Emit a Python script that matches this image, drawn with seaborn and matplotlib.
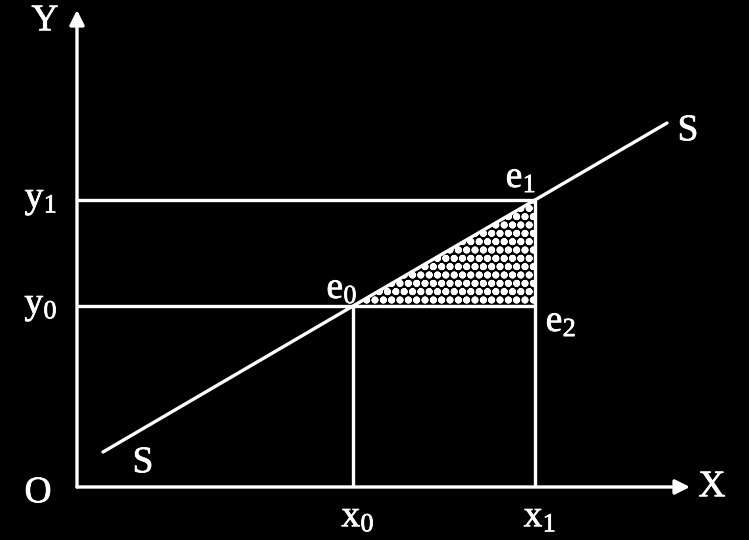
import matplotlib
matplotlib.use("Agg")
import matplotlib.pyplot as plt
import matplotlib.patheffects as pe
import pandas as pd
import seaborn as sns

# Quantities and prices at the two equilibria (origin O = 0, 0)
x_vals = [276, 458]          # x0, x1
y_vals = [181, 287]          # y0, y1
x_labels = [r"$\mathrm{x}_0$", r"$\mathrm{x}_1$"]
y_labels = [r"$\mathrm{y}_0$", r"$\mathrm{y}_1$"]

# Supply schedule S-S
supply_x = [26, 276, 458, 590]
supply_y = [35, 181, 287, 364]

# Axis extents
x_axis_end = 613
y_axis_end = 477

sns.set_theme(style="white")
plt.rcParams["font.family"] = ["Liberation Serif", "DejaVu Serif"]
plt.rcParams["mathtext.fontset"] = "custom"
plt.rcParams["mathtext.rm"] = "Liberation Serif"
plt.rcParams["mathtext.it"] = "Liberation Serif:italic"
plt.rcParams["hatch.linewidth"] = 2.6

fig = plt.figure(figsize=(7.49, 5.40), dpi=100, facecolor="black")
ax = fig.add_axes([0, 0, 1, 1])
ax.set_facecolor("black")
ax.set_xlim(-77, 672)
ax.set_ylim(-53, 487)
ax.axis("off")

W = "white"
LW = 2.4

# Axes with arrows
arrow = dict(arrowstyle="-|>", color=W, lw=LW, mutation_scale=22, shrinkA=0, shrinkB=0)
ax.annotate("", xy=(0, y_axis_end), xytext=(0, 0), arrowprops=arrow)
ax.annotate("", xy=(x_axis_end, 0), xytext=(0, 0), arrowprops=arrow)

# Supply line
df = pd.DataFrame({"q": supply_x, "p": supply_y})
sns.lineplot(data=df, x="q", y="p", ax=ax, color=W, lw=LW, sort=False)

# Guide lines
x0, x1 = x_vals
y0, y1 = y_vals
ax.plot([0, x1], [y1, y1], color=W, lw=LW, solid_capstyle="butt")
ax.plot([0, x1], [y0, y0], color=W, lw=LW, solid_capstyle="butt")
ax.plot([x0, x0], [0, y0], color=W, lw=LW, solid_capstyle="butt")
ax.plot([x1, x1], [0, y1], color=W, lw=LW, solid_capstyle="butt")

# Shaded surplus triangle e0-e1-e2 (stippled)
ax.fill([x0, x1, x1], [y0, y1, y0], facecolor="black", edgecolor=W,
        hatch="oo", lw=0)

fs = 27
heavy = [pe.withStroke(linewidth=0.5, foreground=W)]
txt = dict(color=W, fontsize=fs, ha="center", va="center", path_effects=heavy)
ax.text(-32, 466, "Y", **txt)
ax.text(x_axis_end + 22, 0, "X", **txt)
ax.text(-39, -6, "O", **txt)
for xv, lab in zip(x_vals, x_labels):
    ax.text(xv + 5, -30, lab, **txt)
for yv, lab in zip(y_vals, y_labels):
    ax.text(-36, yv, lab, **txt)
ax.text(66, 24, "S", **txt)
ax.text(611, 356, "S", **txt)
ax.text(x0 - 11, y0 + 17, r"$\mathrm{e}_0$", **txt)
ax.text(x1 - 14, y1 + 22, r"$\mathrm{e}_1$", **txt)
ax.text(x1 + 26, y0 - 16, r"$\mathrm{e}_2$", **txt)

fig.savefig("out.png", dpi=100, facecolor="black")
